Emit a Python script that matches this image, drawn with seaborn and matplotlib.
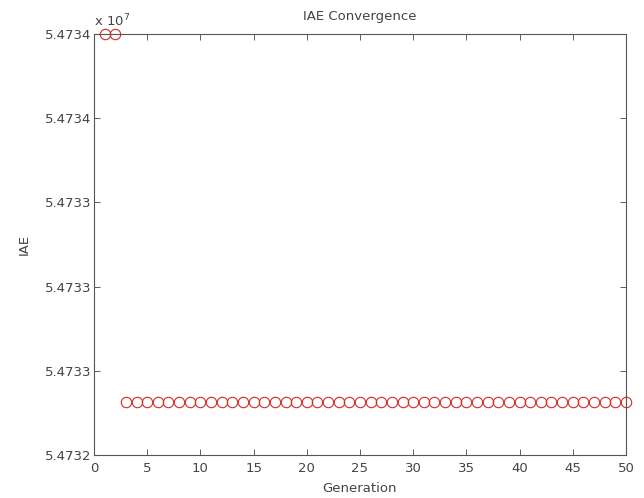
import seaborn as sns
import pandas as pd
import matplotlib.pyplot as plt

# values
generation = list(range(1, 51))
iae = [54734150, 54734150] + [54732400] * 48
y_ticks = [54732150, 54732550, 54732950, 54733350, 54733750, 54734150]
y_tick_labels = ['5.4732', '5.4733', '5.4733', '5.4733', '5.4734', '5.4734']
x_ticks = list(range(0, 51, 5))

df = pd.DataFrame({'Generation': generation, 'IAE': iae})

sns.set_style('ticks', {'xtick.direction': 'in', 'ytick.direction': 'in'})
plt.rcParams['font.family'] = ['DejaVu Sans']

fig = plt.figure(figsize=(6.44, 4.98), dpi=100)
ax = fig.add_axes([0.146, 0.0863, 0.826, 0.8454])

sns.lineplot(data=df, x='Generation', y='IAE', ax=ax, marker='o', linestyle='',
             markersize=7.5, markerfacecolor='none', markeredgecolor='#d42a2a',
             markeredgewidth=0.8, clip_on=False)

ax.set_xlim(0, 50)
ax.set_ylim(y_ticks[0], y_ticks[-1])
ax.set_xticks(x_ticks)
ax.set_yticks(y_ticks)
ax.set_yticklabels(y_tick_labels)
ax.tick_params(labelsize=9.5, colors='#444444', length=4, width=0.6,
               top=True, right=True, direction='in')
ax.tick_params(axis='x', pad=5)
ax.tick_params(axis='y', pad=2)
for sp in ax.spines.values():
    sp.set_visible(True)
    sp.set_color('#555555')
    sp.set_linewidth(0.8)

ax.set_xlabel('Generation', fontsize=9.5, color='#444444', labelpad=5)
ax.set_ylabel('IAE', fontsize=9.5, color='#444444', labelpad=10)
ax.set_title('IAE Convergence', fontsize=9.5, color='#444444', pad=10)
ax.text(0.0, 1.012, r'x 10$^7$', transform=ax.transAxes, fontsize=9.5,
        color='#444444', ha='left', va='bottom')

fig.savefig('out.png', dpi=100)
